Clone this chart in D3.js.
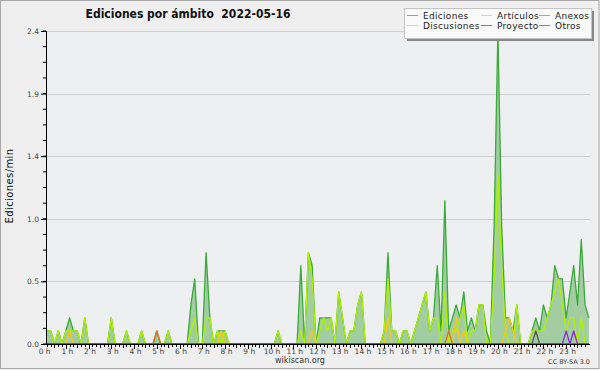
<!DOCTYPE html>
<html><head><meta charset="utf-8">
<script src="https://cdn.jsdelivr.net/npm/d3@7/dist/d3.min.js"></script>
<style>
html,body{margin:0;padding:0;background:#efefef;}
svg{display:block;}
text{font-family:"DejaVu Sans",sans-serif;}
</style></head><body>
<svg id="c" width="600" height="370"></svg>
<script>
// ---- data (edits per minute, 10-minute bins from 00:00) ----
const title = "Ediciones por ámbito  2022-05-16";
const yLabel = "Ediciones/min";
const hourLabels = d3.range(24).map(h => h + " h");
const yTickValues = [0, 0.48, 0.96, 1.44, 1.92, 2.4];
const seriesNames = ["Ediciones", "Artículos", "Anexos", "Discusiones", "Proyecto", "Otros"];

const ediciones = [
 .1,.1,.1,0,.1,0,.1,.2,.1,.1,
 0,.2,0,0,0,0,0,0,.2,0,
 0,0,.1,0,0,0,.1,0,0,0,
 .1,0,0,.1,0,0,0,0,0,.3,
 .5,0,0,.7,.2,0,.1,.1,.1,0,
 0,0,0,0,0,0,0,0,0,0,
 0,0,.1,0,0,0,0,0,.6,0,
 .7,.6,0,.2,.2,.2,.2,0,.4,.2,
 0,.1,.1,.3,.4,0,0,0,0,0,
 .1,.7,.1,.1,0,.1,.1,0,.1,.2,
 .3,.4,.1,.2,.6,.1,1.1,.1,.2,.3,
 .2,.4,.1,.2,.1,.3,.3,.1,0,.9,
 2.4,.9,.2,.2,.1,.3,0,0,0,.1,
 .2,.1,.3,.2,.3,.6,.5,.5,.2,.4,
 .6,.3,.8,.3,.2
];
const articulos = [
 .1,.1,.1,0,.1,0,.1,.1,.1,.1,
 0,.2,0,0,0,0,0,0,.2,0,
 0,0,.1,0,0,0,.1,0,0,0,
 0,0,0,.1,0,0,0,0,0,.1,
 .2,0,0,.2,.2,0,.1,0,.1,0,
 0,0,0,0,0,0,0,0,0,0,
 0,0,.1,0,0,0,0,0,.1,0,
 .7,.5,0,.1,.2,.1,.2,0,.4,.2,
 0,.1,.1,.3,.4,0,0,0,0,0,
 .1,.5,.1,.1,0,.1,.1,0,.1,.2,
 .3,.4,.1,.2,.2,0,.4,0,.1,.1,
 .2,.3,0,.1,.1,.3,.3,0,0,.5,
 1.3,.6,.1,0,0,.3,0,0,0,.1,
 .1,.1,.1,.2,.3,.4,.5,.3,.1,.2,
 .2,0,.2,0,0
];
const anexos = [
 0,0,0,0,0,0,0,0,0,0, 0,0,0,0,0,0,0,0,0,0, 0,0,0,0,0,0,0,0,0,0,
 .1,0,0,0,0,0,0,0,0,0, 0,0,0,0,0,0,0,0,0,0, 0,0,0,0,0,0,0,0,0,0,
 0,0,0,0,0,0,0,0,0,0, 0,0,0,0,0,0,0,0,0,0, 0,0,0,0,0,0,0,0,0,0,
 0,0,0,0,0,0,0,0,0,0, 0,0,0,0,0,0,0,.1,0,0, 0,0,0,0,0,0,0,0,0,0,
 0,0,0,0,0,0,0,0,0,0, 0,0,0,0,0
];
const discusiones = [
 0,0,0,0,0,0,0,.1,0,0, 0,0,0,0,0,0,0,0,0,0, 0,0,0,0,0,0,0,0,0,0,
 0,0,0,0,0,0,0,0,0,0, 0,0,0,0,0,0,0,.1,0,0, 0,0,0,0,0,0,0,0,0,0,
 0,0,0,0,0,0,0,0,0,0, 0,.1,0,0,0,0,0,0,0,0, 0,0,0,0,0,0,0,0,0,0,
 0,.2,0,0,0,0,0,0,0,0, 0,0,0,0,0,0,0,0,0,.2, 0,.1,0,0,0,0,0,0,0,0,
 0,0,.1,.2,.1,0,0,0,0,0, 0,0,0,0,0
];
const proyecto = [
 0,0,0,0,0,0,0,0,0,0, 0,0,0,0,0,0,0,0,0,0, 0,0,0,0,0,0,0,0,0,0,
 0,0,0,0,0,0,0,0,0,0, 0,0,0,0,0,0,0,0,0,0, 0,0,0,0,0,0,0,0,0,0,
 0,0,0,0,0,0,0,0,0,0, 0,0,0,0,0,0,0,0,0,0, 0,0,0,0,0,0,0,0,0,0,
 0,0,0,0,0,0,0,0,0,0, 0,0,0,0,0,0,0,0,0,0, 0,0,0,0,0,0,0,0,0,0,
 0,0,0,0,0,0,0,0,0,0, .1,0,0,0,0,0,0,0,0,0, 0,0,0,0,0
];
const otros = [
 0,0,0,0,0,0,0,0,0,0, 0,0,0,0,0,0,0,0,0,0, 0,0,0,0,0,0,0,0,0,0,
 0,0,0,0,0,0,0,0,0,0, 0,0,0,0,0,0,0,0,0,0, 0,0,0,0,0,0,0,0,0,0,
 0,0,0,0,0,0,0,0,0,0, 0,0,0,0,0,0,0,0,0,0, 0,0,0,0,0,0,0,0,0,0,
 0,0,0,0,0,0,0,0,0,0, 0,0,0,0,0,0,0,0,0,0, 0,0,0,0,0,0,0,0,0,0,
 0,0,0,0,0,0,0,0,0,0, 0,0,0,0,0,0,0,0,.1,0, .1,0,0,0,0
];

// ---- drawing ----
const W = 600, H = 370;
const plotL = 46, plotR = 590, plotT = 31, plotB = 344;
const svg = d3.select("#c");

svg.append("rect").attr("x", 0.5).attr("y", 0.5).attr("width", W - 1.5).attr("height", H - 2)
  .attr("fill", "#efefef").attr("stroke", "#a8a8a8");

const x = d3.scaleLinear().domain([0, 144]).range([43.1, 43.1 + 3.79 * 144]);
const y = d3.scaleLinear().domain([0, 2.4]).range([plotB, plotT]);

svg.append("rect").attr("x", plotL).attr("y", plotT).attr("width", plotR - plotL).attr("height", plotB - plotT)
  .attr("fill", "#eeeff1");

svg.append("g").selectAll("line").data(yTickValues.slice(1)).join("line")
  .attr("x1", plotL).attr("x2", plotR).attr("y1", d => Math.round(y(d)) + 0.5).attr("y2", d => Math.round(y(d)) + 0.5)
  .attr("stroke", "#cfcfcf").attr("stroke-width", 1);

svg.append("defs").append("clipPath").attr("id", "clip")
  .append("rect").attr("x", plotL).attr("y", 0).attr("width", plotR - plotL).attr("height", plotB);

const g = svg.append("g").attr("clip-path", "url(#clip)");
const idx = d3.range(ediciones.length);
const area = d3.area().x(i => x(i)).y0(y(0)).y1(i => y(ediciones[i]));
g.append("path").attr("d", area(idx)).attr("fill", "#a2cda2");

const colors = {
  "Ediciones": "#3aaa3a", "Artículos": "#b0f000", "Anexos": "#ee6a1a",
  "Discusiones": "#f8c818", "Proyecto": "#555555", "Otros": "#8a2be2"
};
const dataBy = {
  "Ediciones": ediciones, "Artículos": articulos, "Anexos": anexos,
  "Discusiones": discusiones, "Proyecto": proyecto, "Otros": otros
};
const drawOrder = ["Ediciones", "Artículos", "Discusiones", "Anexos", "Proyecto", "Otros"];
drawOrder.forEach(name => {
  const arr = dataBy[name];
  const line = d3.line().x(i => x(i)).y(i => y(arr[i]));
  g.append("path").attr("d", line(idx)).attr("fill", "none")
    .attr("stroke", colors[name]).attr("stroke-width", 1.3).attr("stroke-linejoin", "round");
});

// y axis
const yAxis = d3.axisLeft(y).tickValues(yTickValues).tickFormat(d3.format(".1f")).tickSize(5).tickPadding(2);
const ya = svg.append("g").attr("transform", `translate(${plotL},0)`).call(yAxis);
ya.select(".domain").attr("stroke", "#000");
ya.selectAll(".tick line").attr("stroke", "#000");
ya.selectAll("text").attr("font-size", 7.5).attr("fill", "#444").attr("font-family", "DejaVu Sans");
const yMinor = d3.range(21).map(i => i * 0.12);
svg.append("g").selectAll("line").data(yMinor).join("line")
  .attr("x1", plotL - 3).attr("x2", plotL).attr("y1", d => y(d)).attr("y2", d => y(d)).attr("stroke", "#000");

// x axis
const xa = svg.append("g").attr("transform", `translate(0,${plotB})`);
xa.append("line").attr("x1", plotL).attr("x2", plotR).attr("y1", 0.5).attr("y2", 0.5).attr("stroke", "#000");
xa.selectAll("line.t").data(d3.range(1, 144)).join("line").attr("class", "t")
  .attr("x1", i => Math.round(x(i)) + 0.5).attr("x2", i => Math.round(x(i)) + 0.5)
  .attr("y1", 0).attr("y2", i => i % 6 === 0 ? 5 : (i % 3 === 0 ? 4 : 3)).attr("stroke", "#000");
xa.selectAll("text").data(hourLabels).join("text")
  .attr("x", (d, h) => x(h * 6) + 1.5).attr("y", 10).attr("text-anchor", "middle")
  .attr("font-size", 7.5).attr("fill", "#444").text(d => d);

// title
svg.append("text").attr("x", 188).attr("y", 18).attr("text-anchor", "middle")
  .style("white-space", "pre").attr("xml:space", "preserve")
  .attr("font-family", "DejaVu Sans Condensed, DejaVu Sans").attr("font-stretch", "condensed")
  .attr("font-weight", "bold").attr("font-size", 12).attr("fill", "#111").text(title);

// y label
svg.append("text").attr("transform", "translate(13,186) rotate(-90)").attr("text-anchor", "middle")
  .attr("font-size", 10).attr("fill", "#111").attr("letter-spacing", 0.4).text(yLabel);

// footer
svg.append("text").attr("x", 300).attr("y", 363).attr("text-anchor", "middle")
  .attr("font-size", 8).attr("fill", "#333").text("wikiscan.org");
svg.append("text").attr("x", 590).attr("y", 364).attr("text-anchor", "end")
  .attr("font-size", 6.5).attr("fill", "#444").text("CC BY-SA 3.0");

// legend
const lg = svg.append("g");
lg.append("rect").attr("x", 407).attr("y", 11).attr("width", 187).attr("height", 30).attr("fill", "#888");
lg.append("rect").attr("x", 404.5).attr("y", 8.5).attr("width", 187).attr("height", 30)
  .attr("fill", "#fafafa").attr("stroke", "#c4c4c4");
const legendItems = [
  {n: "Ediciones", c: 0, r: 0}, {n: "Artículos", c: 1, r: 0}, {n: "Anexos", c: 2, r: 0},
  {n: "Discusiones", c: 0, r: 1}, {n: "Proyecto", c: 1, r: 1}, {n: "Otros", c: 2, r: 1}
];
const colX = [407, 481, 539];
const rowY = [19, 29];
legendItems.forEach(it => {
  lg.append("line").attr("x1", colX[it.c]).attr("x2", colX[it.c] + 11)
    .attr("y1", rowY[it.r] - 3.5).attr("y2", rowY[it.r] - 3.5)
    .attr("stroke", colors[it.n]).attr("stroke-opacity", 0.75).attr("stroke-width", 1);
  lg.append("text").attr("x", colX[it.c] + 16).attr("y", rowY[it.r])
    .attr("font-size", 9).attr("fill", "#222").attr("letter-spacing", 0.3).text(it.n);
});
</script>
</body></html>
